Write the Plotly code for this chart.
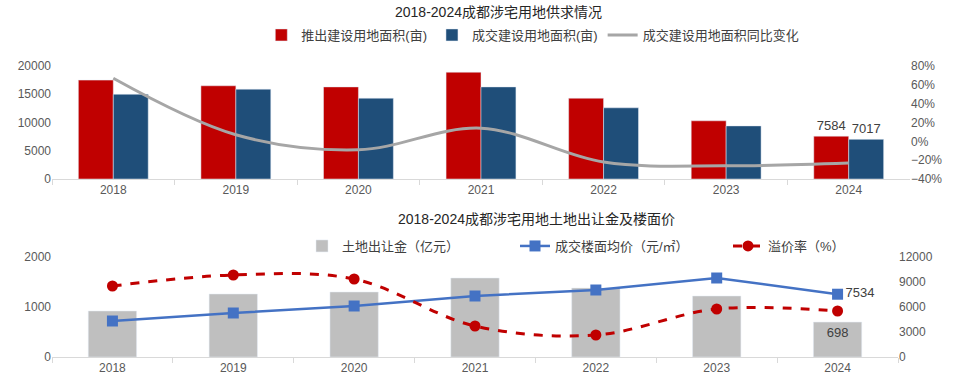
import plotly.graph_objects as go

years = ["2018", "2019", "2020", "2021", "2022", "2023", "2024"]
supply_area = [17500, 16500, 16300, 18900, 14300, 10300, 7584]
deal_area = [15000, 15900, 14300, 16300, 12600, 9400, 7017]
deal_yoy = [67, 7, -9, 14, -22, -26, -23]

land_fee = [920, 1260, 1300, 1580, 1380, 1220, 698]
floor_price = [4320, 5280, 6120, 7320, 8040, 9480, 7534]
premium = [14.2, 16.4, 15.6, 6.2, 4.4, 9.6, 9.2]

FONT = "Liberation Sans, Arial, Noto Sans CJK SC, sans-serif"
TICK = dict(family=FONT, size=12, color="#595959")
LABEL = dict(family=FONT, size=13, color="#404040")
LEGFONT = dict(family=FONT, size=13, color="#404040")

def last_only(vals):
    return [""] * (len(vals) - 1) + [str(vals[-1])]

fig = go.Figure()

# ---------- top chart ----------
fig.add_trace(go.Bar(
    x=years, y=supply_area, name="推出建设用地面积(亩)",
    marker=dict(color="#C00000"), xaxis="x", yaxis="y", legend="legend",
    text=last_only(supply_area), textposition="outside", textfont=LABEL,
    cliponaxis=False,
))
fig.add_trace(go.Bar(
    x=years, y=deal_area, name="成交建设用地面积(亩)",
    marker=dict(color="#1F4E79"), xaxis="x", yaxis="y", legend="legend",
    text=last_only(deal_area), textposition="outside", textfont=LABEL,
    cliponaxis=False,
))
fig.add_trace(go.Scatter(
    x=years, y=deal_yoy, name="成交建设用地面积同比变化", mode="lines",
    line=dict(color="#A6A6A6", width=3, shape="spline", smoothing=1.0),
    xaxis="x", yaxis="y2", legend="legend",
))

# ---------- bottom chart ----------
fig.add_trace(go.Bar(
    x=years, y=land_fee, name="土地出让金（亿元）",
    marker=dict(color="#BFBFBF"), xaxis="x2", yaxis="y3", legend="legend2",
    text=last_only(land_fee), textposition="inside", insidetextanchor="end",
    textfont=LABEL, width=0.4,
))
fig.add_trace(go.Scatter(
    x=years, y=floor_price, name="成交楼面均价（元/㎡）", mode="lines+markers+text",
    line=dict(color="#4472C4", width=2.5),
    marker=dict(symbol="square", size=11, color="#4472C4"),
    text=last_only(floor_price), textposition="middle right", textfont=LABEL,
    xaxis="x2", yaxis="y4", legend="legend3", cliponaxis=False,
))
fig.add_trace(go.Scatter(
    x=years, y=premium, name="溢价率（%）", mode="lines+markers",
    line=dict(color="#C00000", width=3, dash="dash", shape="spline", smoothing=1.0),
    marker=dict(symbol="circle", size=11, color="#C00000"),
    xaxis="x2", yaxis="y5", legend="legend4", cliponaxis=False,
))

axis_common = dict(showgrid=False, zeroline=False, tickfont=TICK, tickformat="d")
LEG_Y2 = (382 - 246) / 382

def small_legend(xpx):
    return dict(orientation="h", x=xpx/960, y=LEG_Y2, xanchor="left", yanchor="middle",
                font=LEGFONT, bgcolor="rgba(0,0,0,0)")

fig.update_layout(
    width=960, height=382,
    margin=dict(l=0, r=0, t=0, b=0, autoexpand=False),
    paper_bgcolor="white", plot_bgcolor="white",
    font=dict(family=FONT, color="#404040"),
    barmode="group", bargap=0.43, bargroupgap=0,
    showlegend=True,
    xaxis=dict(domain=[52/960, 910/960], anchor="y", type="category",
               showline=True, linecolor="#D9D9D9", linewidth=1,
               ticks="outside", tickson="boundaries", ticklen=5, tickcolor="#D9D9D9",
               automargin=False, showgrid=False, zeroline=False, tickfont=TICK),
    yaxis=dict(domain=[(382-179)/382, (382-66)/382], anchor="x", automargin=False,
               range=[0, 20000], dtick=5000, showline=False, **axis_common),
    yaxis2=dict(overlaying="y", side="right", anchor="x", range=[-40, 80], dtick=20,
                ticksuffix="%", showline=False, automargin=False, **axis_common),
    xaxis2=dict(domain=[52/960, 898/960], anchor="y3", type="category",
                showline=True, linecolor="#D9D9D9", linewidth=1,
                ticks="outside", tickson="boundaries", ticklen=5, tickcolor="#D9D9D9",
                automargin=False, showgrid=False, zeroline=False, tickfont=TICK),
    yaxis3=dict(domain=[(382-357)/382, (382-257)/382], anchor="x2", automargin=False,
                range=[0, 2000], dtick=1000, showline=False, **axis_common),
    yaxis4=dict(overlaying="y3", side="right", anchor="x2", range=[0, 12000], dtick=3000,
                showline=False, automargin=False, **axis_common),
    yaxis5=dict(overlaying="y3", side="right", anchor="x2", range=[0, 20],
                visible=False, showgrid=False, zeroline=False),
    legend=dict(orientation="h", x=0.555, y=(382-35)/382, xanchor="center", yanchor="middle",
                font=LEGFONT, bgcolor="rgba(0,0,0,0)", traceorder="normal"),
    legend2=small_legend(302),
    legend3=small_legend(515),
    legend4=small_legend(728),
    annotations=[
        dict(text="2018-2024成都涉宅用地供求情况", x=498/960, y=(382-12)/382, xref="paper", yref="paper",
             showarrow=False, xanchor="center", yanchor="middle",
             font=dict(family=FONT, size=14, color="#262626")),
        dict(text="2018-2024成都涉宅用地土地出让金及楼面价", x=536/960, y=(382-219)/382, xref="paper", yref="paper",
             showarrow=False, xanchor="center", yanchor="middle",
             font=dict(family=FONT, size=14, color="#262626")),
    ],
)

fig.write_html("out.html", config={"displayModeBar": False},
               post_script="document.body.style.margin='0';document.body.style.overflow='hidden';")
